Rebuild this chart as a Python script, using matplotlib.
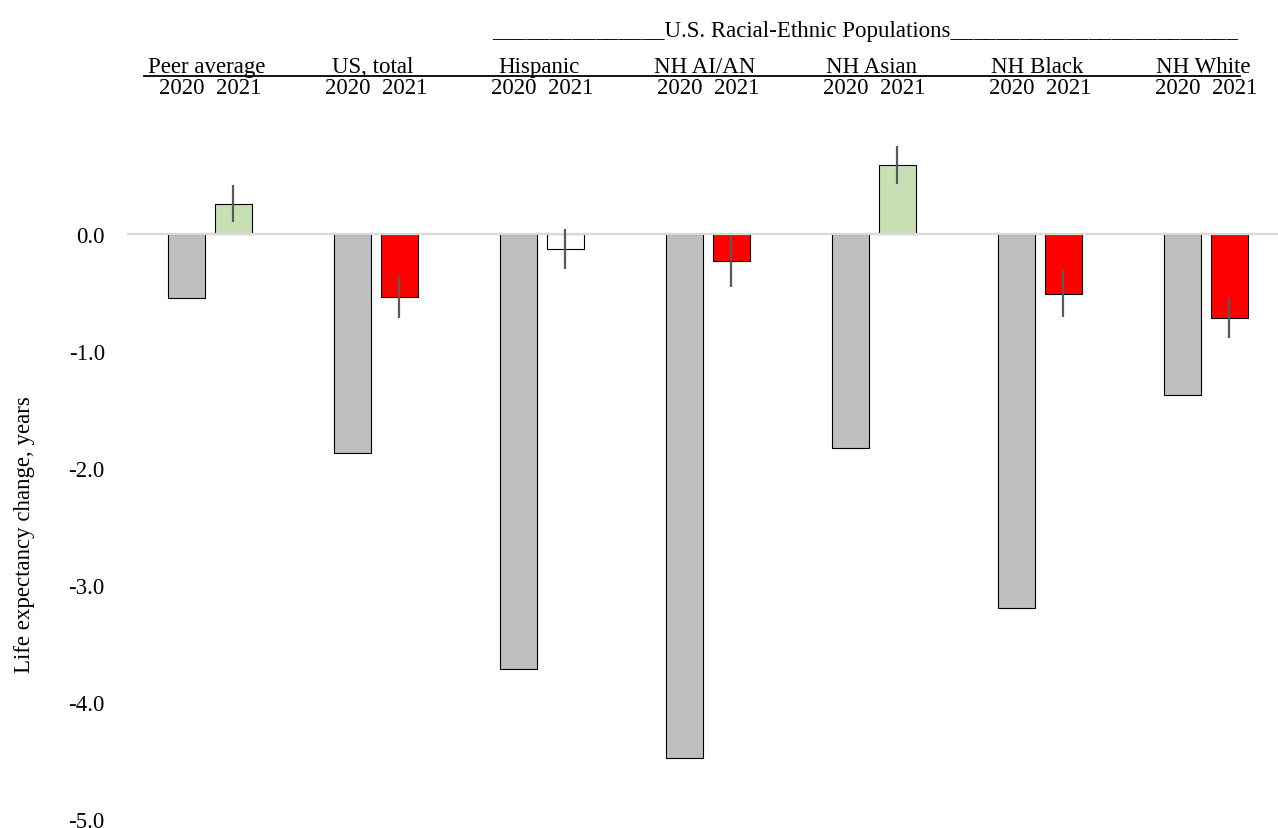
import numpy as np
import matplotlib
matplotlib.use("Agg")
import matplotlib.pyplot as plt
from matplotlib.lines import Line2D

# Data (life expectancy change, years)
groups = ["Peer average", "US, total", "Hispanic", "NH AI/AN", "NH Asian", "NH Black", "NH White"]
change_2020 = [-0.55, -1.87, -3.72, -4.48, -1.83, -3.20, -1.38]
change_2021 = [0.26, -0.54, -0.13, -0.23, 0.59, -0.51, -0.72]
err_2021 = [0.16, 0.18, 0.17, 0.22, 0.16, 0.20, 0.17]
colors_2021 = ["#c6e0b4", "#ff0000", "#ffffff", "#ff0000", "#c6e0b4", "#ff0000", "#ff0000"]
year_labels = ["2020", "2021"]
yticks = [0.0, -1.0, -2.0, -3.0, -4.0, -5.0]

W, H = 1278, 829
plt.rcParams["font.family"] = ["Liberation Serif", "DejaVu Serif"]
FS = 16.5

fig = plt.figure(figsize=(W / 100, H / 100), dpi=100, facecolor="white")
# axes placed in pixel terms: left 127, category slot 166 px, y 0 at 235, -5 at 820
ax_left, ax_w = 127 / W, 7 * 166 / W
ax_bottom, ax_h = (H - 820) / H, (820 - 118) / H
ax = fig.add_axes([ax_left, ax_bottom, ax_w, ax_h])

x = np.arange(len(groups))
bw = 0.223
off = 0.1415

ax.bar(x - off, change_2020, bw, color="#bfbfbf", edgecolor="black", linewidth=0.8, zorder=2)
ax.bar(x + off, change_2021, bw, color=colors_2021, edgecolor="black", linewidth=0.8, zorder=2)
ax.axhline(0, color="#d9d9d9", lw=1.6, zorder=3)
ax.errorbar(x + off, change_2021, yerr=err_2021, fmt="none", ecolor="#595959",
            elinewidth=1.6, capsize=0, zorder=4)

ax.set_xlim(-0.5, 6.5)
ax.set_ylim(-5.0, 1.0)
ax.set_yticks(yticks)
ax.set_yticklabels([f"{v:.1f}" for v in yticks], fontsize=FS)
ax.tick_params(axis="y", length=0, pad=16)
ax.set_xticks([])
for s in ax.spines.values():
    s.set_visible(False)

fig.text(25 / W, 1 - 535 / H, "Life expectancy change, years", rotation=90,
         ha="center", va="center", fontsize=FS)

# header rows above the plot
def px(xp):
    return ax_left + ax_w * (xp + 0.5) / 7

for i, g in enumerate(groups):
    fig.text(px(i) - 3 / W, 1 - 73 / H, g, ha="center", va="baseline", fontsize=FS)
    fig.text(px(i), 1 - 94 / H, "  ".join(year_labels), ha="center", va="baseline", fontsize=FS)

fig.add_artist(Line2D([144 / W, 1240 / W], [1 - 77 / H, 1 - 77 / H],
                      color="black", lw=1.3, transform=fig.transFigure))

fig.text(1238 / W, 1 - 32 / H, "_" * 15 + "U.S. Racial-Ethnic Populations" + "_" * 25,
         ha="right", va="center", fontsize=FS)

fig.savefig("out.png", dpi=100, facecolor="white")
